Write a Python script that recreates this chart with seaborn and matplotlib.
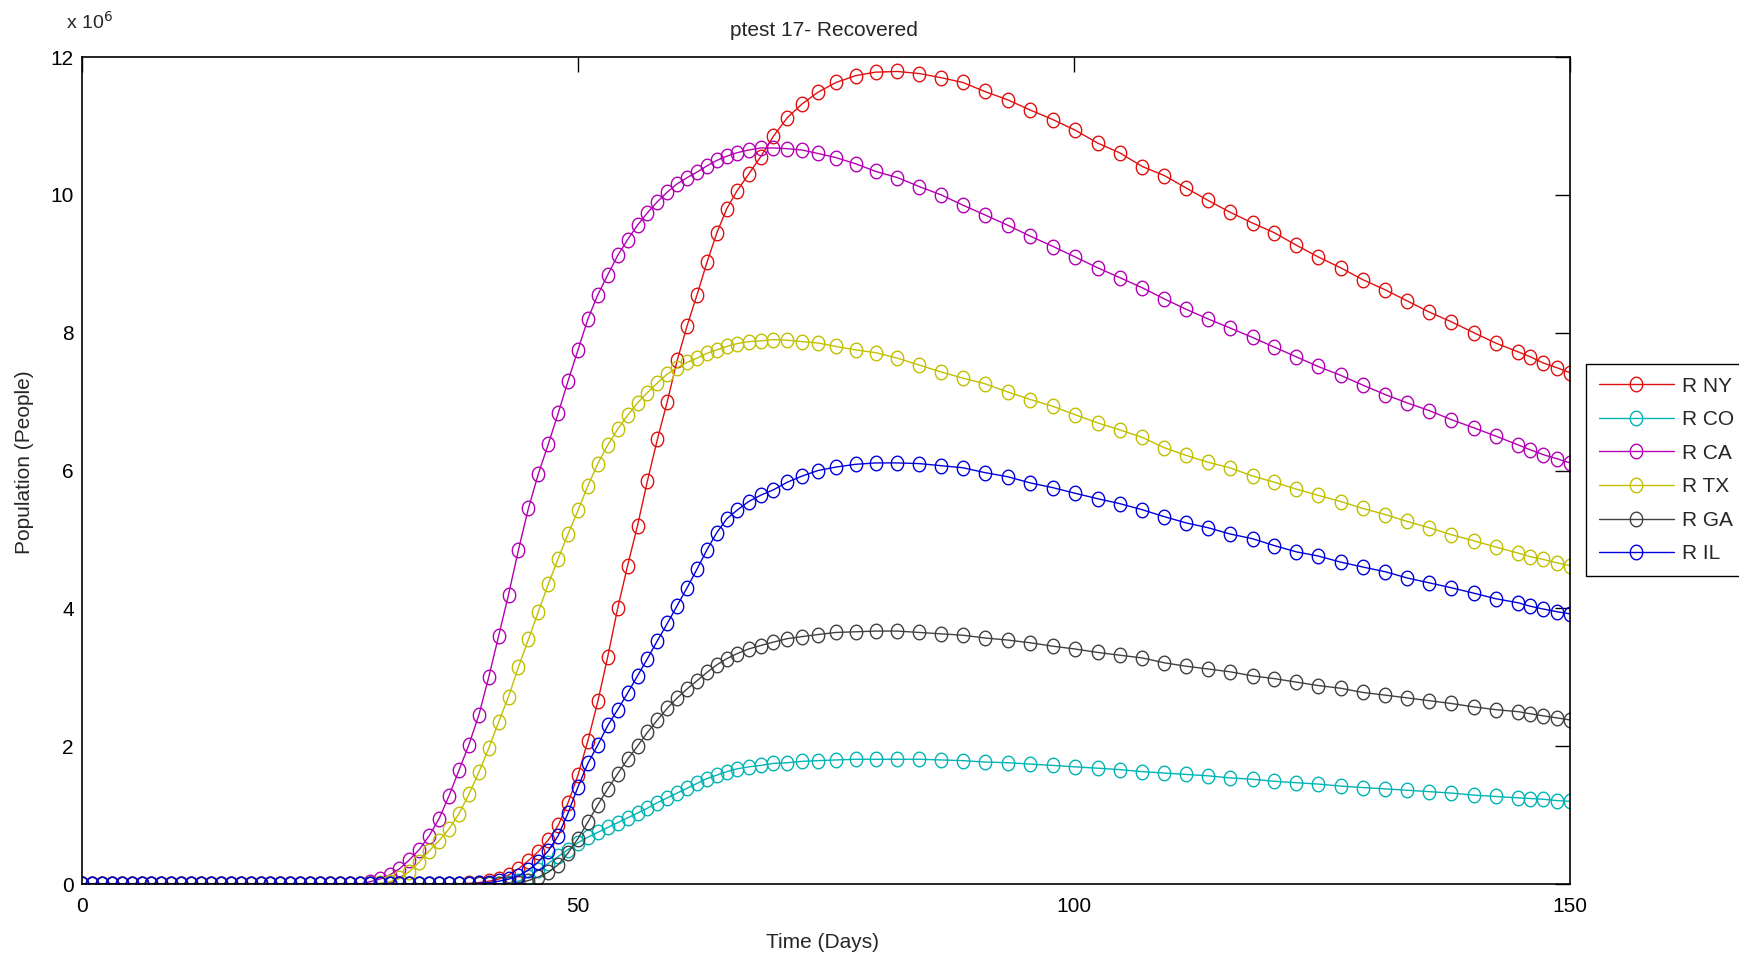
import matplotlib
matplotlib.use("Agg")
import numpy as np
import matplotlib.pyplot as plt
from matplotlib.lines import Line2D
from matplotlib.path import Path
from matplotlib import font_manager
import seaborn as sns

# solver output times (days)
days = [
    0, 1, 2, 3, 4, 5, 6, 7, 8, 9,
    10, 11, 12, 13, 14, 15, 16, 17, 18, 19,
    20, 21, 22, 23, 24, 25, 26, 27, 28, 29,
    30, 31, 32, 33, 34, 35, 36, 37, 38, 39,
    40, 41, 42, 43, 44, 45, 46, 47, 48, 49,
    50, 51, 52, 53, 54, 55, 56, 57, 58, 59,
    60, 61, 62,
    63, 64, 65, 66, 67.2, 68.4, 69.7, 71.1, 72.6, 74.2, 76.0, 78.0, 80.0,
    82.2, 84.4, 86.6, 88.8, 91.0, 93.3, 95.6, 97.9, 100.1, 102.4, 104.6,
    106.9, 109.1, 111.3, 113.5, 115.7, 118.0, 120.2, 122.4, 124.6, 126.9,
    129.1, 131.4, 133.6, 135.8, 138.0, 140.3, 142.5, 144.8, 146.0, 147.3,
    148.7, 150.0,
]

# recovered population, millions of people
r_ny = [
    0, 0, 0, 0, 0, 0, 0, 0, 0, 0,
    0, 0, 0, 0, 0, 0, 0, 0, 0, 0,
    0, 0, 0, 0, 0, 0, 0, 0, 0, 0,
    0, 0, 0, 0, 0, 0, 0, 0, 0, 0.01,
    0.02, 0.04, 0.07, 0.13, 0.22, 0.34, 0.47, 0.64, 0.85, 1.18,
    1.58, 2.08, 2.65, 3.3, 4.0, 4.62, 5.2, 5.85, 6.45, 7.0,
    7.6, 8.1, 8.55,
    9.02, 9.45, 9.8, 10.05, 10.3, 10.55, 10.85, 11.12, 11.32, 11.49, 11.63, 11.73, 11.78,
    11.79, 11.76, 11.7, 11.63, 11.5, 11.38, 11.23, 11.09, 10.94, 10.75, 10.61,
    10.41, 10.28, 10.1, 9.92, 9.75, 9.59, 9.45, 9.27, 9.1, 8.94,
    8.77, 8.62, 8.46, 8.3, 8.16, 8.0, 7.85, 7.72, 7.65, 7.56,
    7.49, 7.42,
]
r_co = [
    0, 0, 0, 0, 0, 0, 0, 0, 0, 0,
    0, 0, 0, 0, 0, 0, 0, 0, 0, 0,
    0, 0, 0, 0, 0, 0, 0, 0, 0, 0,
    0, 0, 0, 0, 0, 0, 0, 0, 0, 0,
    0, 0, 0, 0.01, 0.04, 0.1, 0.2, 0.3, 0.4, 0.5,
    0.6, 0.68, 0.75, 0.82, 0.89, 0.96, 1.03, 1.1, 1.18, 1.25,
    1.32, 1.39, 1.46,
    1.53, 1.58, 1.63, 1.67, 1.7, 1.72, 1.75, 1.76, 1.78, 1.79, 1.8, 1.81, 1.81,
    1.81, 1.81, 1.8, 1.79, 1.77, 1.76, 1.74, 1.72, 1.7, 1.68, 1.66,
    1.63, 1.61, 1.59, 1.57, 1.54, 1.52, 1.49, 1.47, 1.45, 1.42,
    1.4, 1.38, 1.36, 1.34, 1.32, 1.29, 1.27, 1.25, 1.24, 1.23,
    1.21, 1.2,
]
r_ca = [
    0, 0, 0, 0, 0, 0, 0, 0, 0, 0,
    0, 0, 0, 0, 0, 0, 0, 0, 0, 0,
    0, 0, 0, 0, 0, 0, 0, 0, 0, 0.03,
    0.07, 0.13, 0.22, 0.35, 0.5, 0.7, 0.95, 1.28, 1.65, 2.02,
    2.45, 3.0, 3.6, 4.2, 4.85, 5.45, 5.95, 6.38, 6.83, 7.3,
    7.75, 8.2, 8.55, 8.84, 9.12, 9.35, 9.56, 9.74, 9.9, 10.04,
    10.16, 10.25, 10.33,
    10.42, 10.5, 10.56, 10.61, 10.65, 10.68, 10.68, 10.67, 10.65, 10.6, 10.54, 10.45, 10.34,
    10.25, 10.12, 10.0, 9.85, 9.71, 9.56, 9.4, 9.25, 9.1, 8.94, 8.8,
    8.65, 8.49, 8.34, 8.2, 8.07, 7.93, 7.79, 7.65, 7.51, 7.38,
    7.24, 7.1, 6.98, 6.87, 6.74, 6.62, 6.5, 6.37, 6.3, 6.23,
    6.17, 6.11,
]
r_tx = [
    0, 0, 0, 0, 0, 0, 0, 0, 0, 0,
    0, 0, 0, 0, 0, 0, 0, 0, 0, 0,
    0, 0, 0, 0, 0, 0, 0, 0, 0, 0,
    0.01, 0.03, 0.08, 0.18, 0.32, 0.48, 0.63, 0.8, 1.02, 1.3,
    1.62, 1.97, 2.35, 2.72, 3.15, 3.55, 3.95, 4.35, 4.72, 5.08,
    5.42, 5.78, 6.1, 6.37, 6.6, 6.8, 6.98, 7.13, 7.27, 7.4,
    7.49, 7.57, 7.63,
    7.7, 7.75, 7.8, 7.84, 7.87, 7.88, 7.9, 7.89, 7.87, 7.85, 7.8, 7.75, 7.71,
    7.63, 7.53, 7.43, 7.34, 7.26, 7.14, 7.03, 6.93, 6.81, 6.69, 6.59,
    6.48, 6.33, 6.22, 6.12, 6.04, 5.92, 5.83, 5.73, 5.64, 5.55,
    5.45, 5.36, 5.26, 5.17, 5.07, 4.98, 4.89, 4.8, 4.75, 4.71,
    4.66, 4.62,
]
r_ga = [
    0, 0, 0, 0, 0, 0, 0, 0, 0, 0,
    0, 0, 0, 0, 0, 0, 0, 0, 0, 0,
    0, 0, 0, 0, 0, 0, 0, 0, 0, 0,
    0, 0, 0, 0, 0, 0, 0, 0, 0, 0,
    0, 0, 0, 0, 0.02, 0.05, 0.1, 0.17, 0.28, 0.45,
    0.66, 0.9, 1.15, 1.38, 1.6, 1.81, 2.0, 2.2, 2.38, 2.55,
    2.7, 2.83, 2.95,
    3.07, 3.18, 3.27, 3.34, 3.41, 3.46, 3.51, 3.56, 3.59, 3.62, 3.65, 3.66, 3.67,
    3.67, 3.65, 3.63, 3.61, 3.57, 3.54, 3.5, 3.45, 3.41, 3.36, 3.32,
    3.28, 3.21, 3.16, 3.12, 3.08, 3.02, 2.98, 2.93, 2.88, 2.84,
    2.78, 2.74, 2.7, 2.66, 2.62, 2.57, 2.53, 2.5, 2.47, 2.44,
    2.41, 2.38,
]
r_il = [
    0, 0, 0, 0, 0, 0, 0, 0, 0, 0,
    0, 0, 0, 0, 0, 0, 0, 0, 0, 0,
    0, 0, 0, 0, 0, 0, 0, 0, 0, 0,
    0, 0, 0, 0, 0, 0, 0, 0, 0, 0,
    0.01, 0.02, 0.04, 0.07, 0.12, 0.2, 0.32, 0.48, 0.7, 1.03,
    1.41, 1.75, 2.02, 2.3, 2.53, 2.77, 3.02, 3.27, 3.53, 3.78,
    4.04, 4.3, 4.57,
    4.85, 5.1, 5.3, 5.42, 5.55, 5.64, 5.72, 5.83, 5.92, 6.0, 6.05, 6.09, 6.11,
    6.11, 6.1, 6.07, 6.04, 5.97, 5.91, 5.82, 5.75, 5.67, 5.59, 5.52,
    5.43, 5.33, 5.24, 5.17, 5.08, 5.01, 4.91, 4.82, 4.76, 4.67,
    4.6, 4.53, 4.44, 4.37, 4.3, 4.22, 4.14, 4.08, 4.03, 3.99,
    3.95, 3.92,
]

labels = ["R NY", "R CO", "R CA", "R TX", "R GA", "R IL"]
colors = ["#e01010", "#00b4b4", "#b400b4", "#c0c000", "#404040", "#0000dd"]
series = [r_ny, r_co, r_ca, r_tx, r_ga, r_il]
for s in series:
    assert len(s) == len(days), len(s)

sns.set_style("white")
installed = {f.name for f in font_manager.fontManager.ttflist}
if "Liberation Sans Narrow" in installed:
    fam, fs = "Liberation Sans Narrow", 17
else:
    fam, fs = "Liberation Sans", 15
plt.rcParams["font.family"] = [fam, "DejaVu Sans"]

# slightly tall open circle, like the stretched MATLAB markers
ang = np.linspace(0, 2 * np.pi, 41)
oval = Path(np.column_stack([0.85 * np.cos(ang), np.sin(ang)]), closed=True)
msize = 10.5

W, H = 1739, 959
fig = plt.figure(figsize=(W / 100, H / 100), dpi=100)
ax = fig.add_axes([82 / W, 1 - 884 / H, (1570 - 82) / W, (884 - 57) / H])

for vals, col in zip(series, colors):
    sns.lineplot(x=days, y=vals, ax=ax, color=col, linewidth=1.0,
                 marker=oval, markersize=msize, markerfacecolor="none",
                 markeredgecolor=col, markeredgewidth=1.0, legend=False)

ax.set_xlim(0, 150)
ax.set_ylim(0, 12)
ax.set_xticks([0, 50, 100, 150])
ax.set_yticks([0, 2, 4, 6, 8, 10, 12])
ax.tick_params(direction="in", length=11, width=1, top=True, right=True,
               labelsize=fs, colors="black")
ax.tick_params(axis="y", pad=6)
ax.tick_params(axis="x", pad=9)
ax.set_xlabel("")
ax.set_ylabel("")
for sp in ax.spines.values():
    sp.set_color("black")
    sp.set_linewidth(1.2)

fig.text(824 / W, 1 - 30 / H, "ptest 17- Recovered", ha="center", va="center", fontsize=fs)
fig.text(823 / W, 1 - 943 / H, "Time (Days)", ha="center", va="center", fontsize=fs)
fig.text(25 / W, 1 - 462 / H, "Population (People)", ha="center", va="center",
         rotation=90, fontsize=fs)
fig.text(66 / W, 1 - 22 / H, r"x 10$^{6}$", ha="left", va="center", fontsize=fs - 1)

handles = [Line2D([0], [0], color=c, linewidth=1.0, marker=oval, markersize=msize,
                  markerfacecolor="none", markeredgecolor=c, markeredgewidth=1.0)
           for c in colors]
leg = ax.legend(handles, labels, loc="upper left",
                bbox_to_anchor=(1586 / W, 1 - 364 / H), bbox_transform=fig.transFigure,
                frameon=True, fancybox=False, edgecolor="black", framealpha=1,
                borderaxespad=0, handlelength=3.6, labelspacing=0.7,
                fontsize=fs, borderpad=0.6, handletextpad=0.4)
leg.get_frame().set_linewidth(1.0)

fig.savefig("out.png", dpi=100, facecolor="white")
